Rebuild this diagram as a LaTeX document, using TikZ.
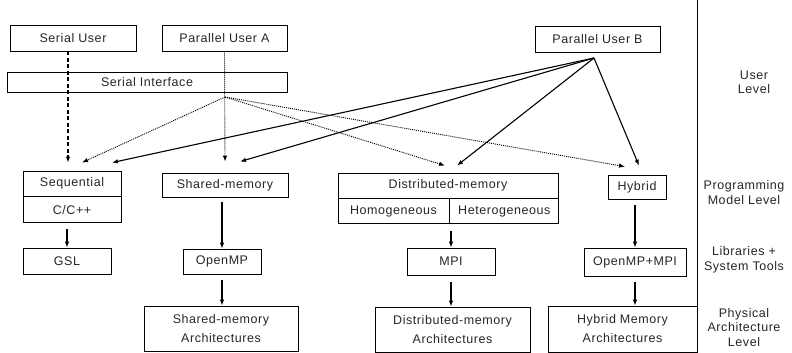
\documentclass[tikz,border=0pt]{standalone}
\usepackage{fontspec}
\setmainfont{Liberation Sans}[LetterSpace=4.5]
\usetikzlibrary{positioning,arrows.meta,calc}

\begin{document}
\begin{tikzpicture}[x=1pt,y=-1pt]
\tikzset{
    box/.style={rectangle, draw=black, line width=0.8pt, inner sep=0pt, align=center, text=black!85, font=\fontsize{12.5}{19}\selectfont},
    level/.style={align=center, text=black!85, font=\fontsize{12.5}{14.5}\selectfont},
    tip/.style={-{Latex[length=6pt,width=4.5pt]}},
    vline/.style={tip, line width=1.1pt},
    userline/.style={tip, line width=1.1pt},
    serialline/.style={tip, line width=1.4pt, dash pattern=on 4pt off 2.5pt},
    dotline/.style={tip, line width=0.9pt, dash pattern=on 1pt off 1pt}
}
\useasboundingbox (0,0) rectangle (792,353);

% user level
\node[box, minimum width=126pt, minimum height=26pt] (su) at (73,38) {Serial User};
\node[box, minimum width=125pt, minimum height=26pt] (pua) at (224.5,38) {Parallel User A};
\node[box, minimum width=125pt, minimum height=26pt] (pub) at (597.5,39) {Parallel User B};
\node[box, minimum width=280pt, minimum height=20pt] (si) at (147,82) {Serial Interface};
\coordinate (hub) at (225,97);
\coordinate (pubsrc) at (594,58);

% programming models
\node[box, minimum width=98pt, minimum height=25pt] (seq) at (72,183.5) {Sequential};
\node[box, minimum width=98pt, minimum height=26pt, below=0pt of seq] (cpp) {C/C++};
\node[box, minimum width=126pt, minimum height=24pt] (shm) at (225,185) {Shared-memory};
\node[box, minimum width=220pt, minimum height=25pt] (dm) at (448,185.5) {Distributed-memory};
\node[box, minimum width=111pt, minimum height=25pt, below=0pt of dm.south west, anchor=north west] (homo) {Homogeneous};
\node[box, minimum width=109pt, minimum height=25pt, right=0pt of homo] (hetero) {Heterogeneous};
\node[box, minimum width=58pt, minimum height=24pt] (hyb) at (637,187) {Hybrid};

% libraries
\node[box, minimum width=88pt, minimum height=26pt] (gsl) at (67,261) {GSL};
\node[box, minimum width=78pt, minimum height=25pt] (omp) at (222,261.5) {OpenMP};
\node[box, minimum width=88pt, minimum height=27pt] (mpi) at (451,261.5) {MPI};
\node[box, minimum width=102pt, minimum height=28pt] (ompmpi) at (635,262) {OpenMP+MPI};

% architectures
\node[box, minimum width=154pt, minimum height=45pt] (sma) at (221,328.5) {Shared-memory\\Architectures};
\node[box, minimum width=155pt, minimum height=45pt] (dma) at (452.5,329.5) {Distributed-memory\\Architectures};
\node[box, minimum width=149pt, minimum height=46pt] (hma) at (622.5,329) {Hybrid Memory\\Architectures};

% level labels
\draw[line width=1pt] (697,0) -- (697,353);
\node[level] (lvuser) at (754,82.5) {User\\Level};
\node[level] (lvprog) at (744,192.5) {Programming\\Model Level};
\node[level] (lvlib) at (744,260) {Libraries +\\System Tools};
\node[level] (lvphys) at (744,327.5) {Physical\\Architecture\\Level};

% user connectors
\draw[serialline] (su.south -| 68,0) -- ([xshift=-4pt,yshift=8pt]seq.north);
\draw[dotline] (pua.south) -- ([yshift=11pt]shm.north);
\draw[dotline] (hub) -- ([xshift=10pt,yshift=8pt]seq.north);
\draw[dotline] (hub) -- ([xshift=-3pt,yshift=7pt]dm.north);
\draw[dotline] (hub) -- ([xshift=-12pt,yshift=8pt]hyb.north);
\draw[userline] (pubsrc) -- ([xshift=40pt,yshift=8pt]seq.north);
\draw[userline] (pubsrc) -- ([xshift=15pt,yshift=11pt]shm.north);
\draw[userline] (pubsrc) -- ([xshift=9pt,yshift=7pt]dm.north);
\draw[userline] (pubsrc) -- ([xshift=2pt,yshift=9pt]hyb.north);

% downward connectors
\draw[vline] ($(cpp.south -| gsl.north)+(0,6)$) -- (gsl.north);
\draw[vline] ($(shm.south -| omp.north)+(0,5)$) -- (omp.north);
\draw[vline] ($(omp.south)+(0,6)$) -- (omp.south |- sma.north);
\draw[vline] ($(homo.south east -| mpi.north)+(0,7)$) -- (mpi.north);
\draw[vline] ($(mpi.south)+(0,7)$) -- (mpi.south |- dma.north);
\draw[vline] ($(hyb.south -| ompmpi.north)+(0,6)$) -- (ompmpi.north);
\draw[vline] ($(ompmpi.south)+(0,6)$) -- (ompmpi.south |- hma.north);
\end{tikzpicture}
\end{document}
